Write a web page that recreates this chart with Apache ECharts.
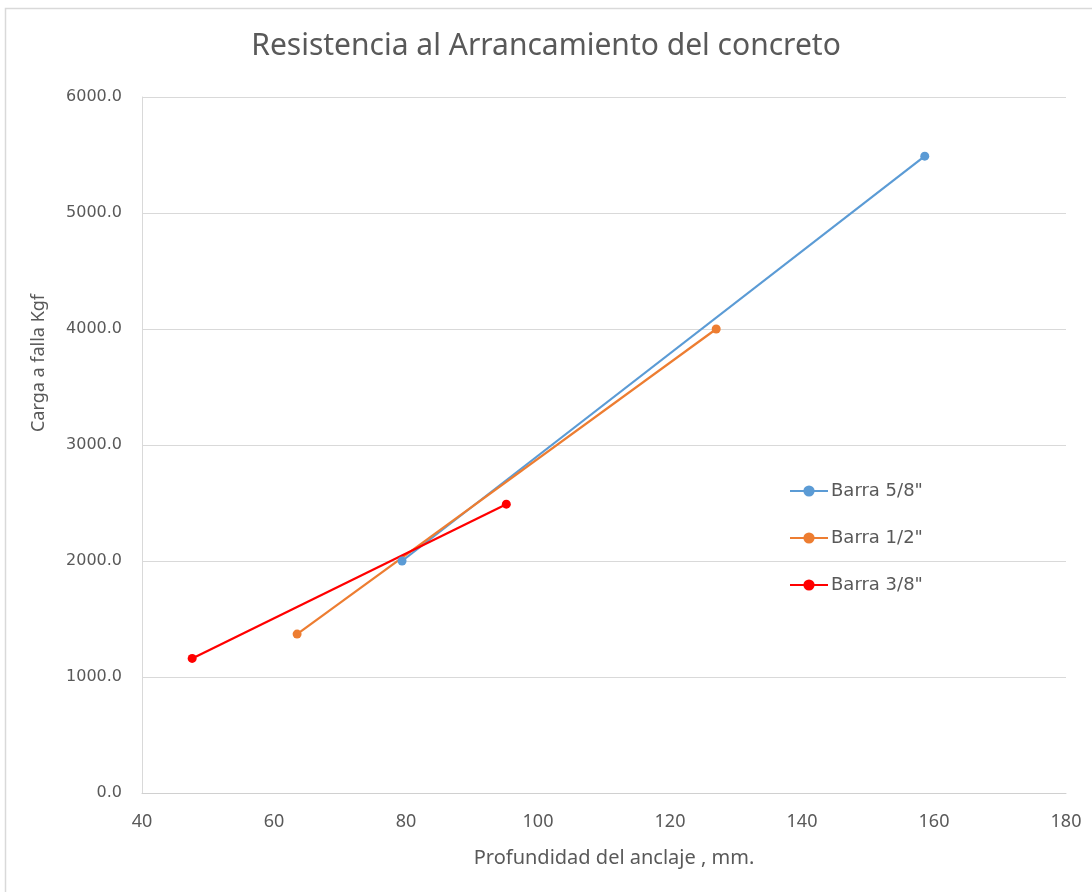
<!DOCTYPE html>
<html>
<head>
<meta charset="utf-8">
<script src="https://cdn.jsdelivr.net/npm/echarts@6/dist/echarts.min.js"></script>
<style>
html,body{margin:0;padding:0;background:#fff;}
#chart{width:1092px;height:892px;}
</style>
</head>
<body>
<div id="chart"></div>
<script>
const seriesNames = ['Barra 5/8"', 'Barra 1/2"', 'Barra 3/8"'];
const barra58 = [[79.4, 2000], [158.6, 5490]];
const barra12 = [[63.5, 1370], [127.0, 4000]];
const barra38 = [[47.6, 1160], [95.2, 2490]];
const colors = ['#5B9BD5', '#ED7D31', '#FF0000'];

const chart = echarts.init(document.getElementById('chart'), null, {renderer: 'canvas'});
const txt = '#595959';
const mk = (name, data, color) => ({
  name, type: 'line', data,
  symbol: 'circle', symbolSize: 9,
  lineStyle: {color, width: 2.2},
  itemStyle: {color},
  emphasis: {disabled: true},
  animation: false
});
chart.setOption({
  animation: false,
  title: {
    text: 'Resistencia al Arrancamiento del concreto',
    left: 'center', top: 26,
    padding: [5, 0, 5, 28],
    textStyle: {fontFamily: 'Noto Sans', fontWeight: 'normal', fontSize: 30, color: txt}
  },
  legend: {
    orient: 'vertical', left: 784, top: 477, itemGap: 29,
    itemWidth: 38, itemHeight: 14,
    data: seriesNames,
    textStyle: {fontFamily: 'DejaVu Sans', fontSize: 18, color: txt, padding: [0, 0, 0, -2]}
  },
  grid: {left: 142, right: 26, top: 97, bottom: 99, containLabel: false},
  xAxis: {
    type: 'value', min: 40, max: 180, interval: 20,
    name: 'Profundidad del anclaje , mm.', nameLocation: 'middle', nameGap: 55,
    nameTextStyle: {fontFamily: 'Noto Sans', fontSize: 20, color: txt, padding: [0, 0, 0, 20]},
    axisLine: {show: true, lineStyle: {color: '#d0d0d0', width: 1}},
    axisTick: {show: false},
    axisLabel: {fontFamily: 'Noto Sans', fontSize: 18, color: txt, margin: 20},
    splitLine: {show: false}
  },
  yAxis: {
    type: 'value', min: 0, max: 6000, interval: 1000,
    name: 'Carga a falla Kgf', nameLocation: 'middle', nameGap: 94, nameRotate: 90,
    nameTextStyle: {fontFamily: 'Noto Sans', fontSize: 18, color: txt, padding: [0, 0, 0, 164]},
    axisLine: {show: true, lineStyle: {color: '#d9d9d9', width: 1}},
    axisTick: {show: false},
    axisLabel: {fontFamily: 'DejaVu Sans', fontSize: 16, color: txt, margin: 20, formatter: v => v.toFixed(1)},
    splitLine: {show: true, lineStyle: {color: '#d9d9d9', width: 1}}
  },
  graphic: [{
    type: 'rect', left: 3, top: 6, shape: {width: 1100, height: 900},
    style: {fill: 'none', stroke: '#d9d9d9', lineWidth: 1.5}, silent: true
  }],
  series: [
    mk(seriesNames[0], barra58, colors[0]),
    mk(seriesNames[1], barra12, colors[1]),
    mk(seriesNames[2], barra38, colors[2])
  ]
});
</script>
</body>
</html>
